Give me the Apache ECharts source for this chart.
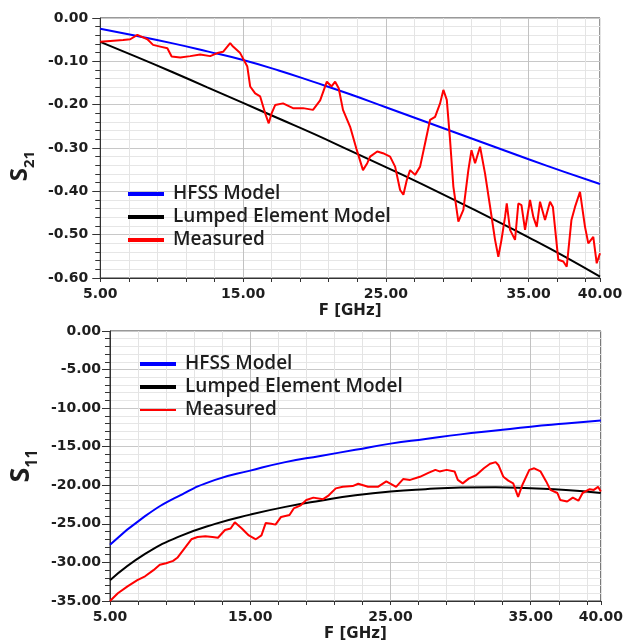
<!DOCTYPE html>
<html><head><meta charset="utf-8">
<script src="https://cdn.jsdelivr.net/npm/echarts@6/dist/echarts.min.js"></script>
<style>html,body{margin:0;padding:0;background:#fff}#c{width:626px;height:643px}</style>
</head><body><div id="c"></div>
<script>
// ---- data ----
const seriesNames = ['HFSS Model', 'Lumped Element Model', 'Measured'];
const xTickLabels = ['5.00', '15.00', '25.00', '35.00', '40.00'];
const freqModel = [5, 7.5, 10, 12.5, 15, 17.5, 20, 22.5, 25, 27.5, 30, 32.5, 35, 37.5, 40];

const s21Hfss   = [-0.025, -0.041, -0.058, -0.077, -0.097, -0.121, -0.148, -0.176, -0.206, -0.236, -0.266, -0.296, -0.326, -0.355, -0.383];
const s21Lumped = [-0.055, -0.089, -0.124, -0.160, -0.196, -0.232, -0.268, -0.306, -0.344, -0.383, -0.423, -0.464, -0.506, -0.550, -0.597];
const s21MeasF = [5, 5.7, 6.6, 7.1, 7.6, 7.8, 8.3, 8.7, 9.2, 9.7, 10.0, 10.6, 11.3, 12.0, 12.7, 13.2, 13.6, 14.1, 14.3, 14.8,
  15.3, 15.5, 15.85, 16.2, 16.55, 16.8, 17.0, 17.25, 17.8, 18.5, 19.2, 19.9, 20.4, 20.87, 21.2, 21.45, 21.7, 22.0, 22.5, 22.97,
  23.4, 23.7, 23.9, 24.4, 24.8, 25.3, 25.65, 26.0, 26.23, 26.47, 26.7, 27.05, 27.4, 27.75, 28.1, 28.45, 28.8, 29.03, 29.27, 29.5,
  29.73, 30.08, 30.43, 30.78, 31.0, 31.25, 31.6, 31.95, 32.3, 32.65, 32.88, 33.1, 33.35, 33.47, 33.7, 34.05, 34.28, 34.5, 34.75, 35.1,
  35.33, 35.57, 35.8, 36.15, 36.5, 36.7, 37.08, 37.43, 37.67, 38.0, 38.25, 38.6, 38.95, 39.18, 39.53, 39.77, 40.0];
const s21MeasV = [-0.055, -0.053, -0.051, -0.049, -0.039, -0.042, -0.049, -0.062, -0.066, -0.070, -0.089, -0.091, -0.088, -0.084, -0.088, -0.081, -0.078, -0.058, -0.066, -0.081,
  -0.112, -0.158, -0.174, -0.181, -0.220, -0.243, -0.220, -0.201, -0.197, -0.208, -0.208, -0.212, -0.190, -0.147, -0.158, -0.147, -0.162, -0.212, -0.251, -0.305,
  -0.351, -0.335, -0.320, -0.308, -0.312, -0.320, -0.343, -0.397, -0.408, -0.374, -0.351, -0.362, -0.343, -0.289, -0.235, -0.228, -0.197, -0.166, -0.189, -0.282,
  -0.389, -0.470, -0.443, -0.351, -0.305, -0.335, -0.297, -0.359, -0.435, -0.512, -0.551, -0.512, -0.459, -0.428, -0.489, -0.512, -0.428, -0.432, -0.489, -0.420,
  -0.459, -0.482, -0.424, -0.466, -0.424, -0.436, -0.558, -0.562, -0.574, -0.466, -0.436, -0.401, -0.482, -0.520, -0.505, -0.566, -0.543];

const s11Hfss   = [-27.7, -24.0, -21.3, -19.3, -18.1, -17.0, -16.2, -15.4, -14.6, -14.0, -13.4, -12.9, -12.4, -12.0, -11.6];
const s11Lumped = [-32.3, -28.9, -26.6, -25.0, -23.8, -22.8, -22.0, -21.3, -20.8, -20.5, -20.3, -20.25, -20.4, -20.6, -21.0];
const s11MeasF = [5, 5.56, 6.25, 6.95, 7.5, 8.1, 8.55, 9.0, 9.5, 9.8, 10.3, 10.8, 11.24, 11.8, 12.3, 12.7, 13.2, 13.6, 13.9, 14.4,
  14.9, 15.4, 15.8, 16.1, 16.5, 16.8, 17.2, 17.8, 18.1, 18.6, 19.0, 19.5, 20.2, 20.6, 21.1, 21.6, 22.3, 22.7, 23.4, 24.1,
  24.7, 25.4, 25.9, 26.4, 27.1, 27.7, 28.2, 28.5, 29.0, 29.57, 29.8, 30.15, 30.6, 31.1, 31.66, 32.1, 32.5, 32.7, 33.05, 33.4,
  33.75, 34.1, 34.4, 34.9, 35.25, 35.7, 36.1, 36.4, 36.9, 37.1, 37.6, 38.0, 38.4, 38.7, 39.2, 39.5, 39.8, 40.0];
const s11MeasV = [-35.0, -34.0, -33.1, -32.3, -31.8, -31.0, -30.3, -30.1, -29.8, -29.4, -28.2, -27.0, -26.7, -26.6, -26.7, -26.8, -25.8, -25.6, -24.8, -25.6,
  -26.5, -27.0, -26.5, -24.9, -25.0, -25.1, -24.1, -23.85, -23.0, -22.6, -21.9, -21.6, -21.8, -21.3, -20.4, -20.2, -20.1, -19.8, -20.2, -20.2,
  -19.5, -20.2, -19.2, -19.3, -18.9, -18.4, -18.0, -18.2, -18.0, -18.2, -19.3, -19.75, -19.1, -18.7, -17.8, -17.2, -17.0, -17.4, -18.9, -19.4,
  -19.75, -21.5, -19.96, -18.0, -17.8, -18.2, -19.5, -20.6, -21.0, -21.9, -22.1, -21.6, -22.0, -21.0, -20.5, -20.6, -20.2, -20.8];

// ---- chart ----
const pairs = (xs, ys) => xs.map((x, i) => [x, ys[i]]);
const TXT = '#1e1e1e';
const AX = '#333';
const FONT = '"DejaVu Sans", Verdana, sans-serif';
const LBL = { fontFamily: FONT, fontWeight: 'bold', fontSize: 14, color: TXT };

function xAxisFor(gi) {
  return {
    type: 'value', gridIndex: gi, min: 5, max: 40, interval: 2,
    name: 'F [GHz]', nameLocation: 'middle', nameGap: 26,
    nameTextStyle: { fontFamily: FONT, fontWeight: 'bold', fontSize: 15, color: TXT },
    axisLine: { show: true, onZero: false, lineStyle: { color: AX, width: 1 } },
    axisTick: { show: true, length: 4, lineStyle: { color: AX } },
    axisLabel: Object.assign({ interval: 0, margin: 9,
      formatter: v => { const s = v.toFixed(2); return xTickLabels.indexOf(s) >= 0 ? s : ''; } }, LBL),
    splitLine: { show: true, lineStyle: { color: ['#c2c2c2', '#e4e4e4', '#e4e4e4', '#e4e4e4', '#e4e4e4'], width: 1 } }
  };
}
function yAxisFor(gi, min, interval, sub, sSize, subSize, pad, gap, margin) {
  return {
    type: 'value', gridIndex: gi, min: min, max: 0, interval: interval,
    name: '{s|S}{sub|' + sub + '}', nameLocation: 'middle', nameRotate: 90, nameGap: gap,
    nameTextStyle: {
      padding: pad,
      rich: {
        s: { fontFamily: 'Open Sans', fontWeight: 700, fontSize: sSize, color: TXT },
        sub: { fontFamily: 'Open Sans', fontWeight: 700, fontSize: subSize, color: TXT, verticalAlign: 'bottom', padding: [0, 0, -5, 0] }
      }
    },
    axisLine: { show: true, onZero: false, lineStyle: { color: AX, width: 1 } },
    axisTick: { show: true, length: 8, lineStyle: { color: AX } },
    minorTick: { show: true, splitNumber: 5, length: 5, lineStyle: { color: AX } },
    axisLabel: Object.assign({ margin: margin, formatter: v => v.toFixed(2) }, LBL),
    splitLine: { show: true, lineStyle: { color: '#c8c8c8', width: 1 } },
    minorSplitLine: { show: true, lineStyle: { color: '#e6e6e6', width: 1 } }
  };
}
const iconThick = 'path://M0,0L36,0L36,4L0,4Z';
const iconThin = 'path://M0,0L36,0L36,2L0,2Z';
function legendFor(left, top, measIcon) {
  return {
    left: left, top: top, orient: 'vertical', padding: 0, itemWidth: 36, itemHeight: 14, itemGap: 3,
    symbolKeepAspect: true,
    textStyle: { fontFamily: 'Open Sans', fontWeight: 600, fontSize: 19, color: TXT, lineHeight: 20, padding: [0, 0, 0, 4] },
    data: [
      { name: seriesNames[0], icon: iconThick },
      { name: seriesNames[1], icon: iconThick },
      { name: seriesNames[2], icon: measIcon }
    ],
    selectedMode: false
  };
}
function line(name, gi, data, color, smooth, width) {
  return { type: 'line', name: name, xAxisIndex: gi, yAxisIndex: gi, data: data, symbol: 'none',
    smooth: smooth, lineStyle: { color: color, width: width }, itemStyle: { color: color } };
}

const chart = echarts.init(document.getElementById('c'), null, { renderer: 'canvas' });
chart.setOption({
  animation: false,
  backgroundColor: '#fff',
  grid: [
    { left: 100, top: 18, width: 500, height: 260, show: true, borderColor: AX, borderWidth: 1, backgroundColor: 'transparent' },
    { left: 102, top: 331, width: 503, height: 270, show: true, borderColor: AX, borderWidth: 1, backgroundColor: 'transparent' }
  ],
  xAxis: [xAxisFor(0), xAxisFor(1)],
  yAxis: [yAxisFor(0, -0.6, 0.1, '21', 24, 15, [0, 36, 0, 0], 57, 12), yAxisFor(1, -35, 5, '11', 27, 16, [0, 0, 0, 0], 59, 9)],
  legend: [legendFor(128, 184, iconThick), legendFor(140, 354, iconThin)],
  series: [
    line(seriesNames[0], 0, pairs(freqModel, s21Hfss), '#0000ff', true, 2),
    line(seriesNames[1], 0, pairs(freqModel, s21Lumped), '#000000', true, 2),
    line(seriesNames[2], 0, pairs(s21MeasF, s21MeasV), '#ff0000', false, 2),
    line(seriesNames[0], 1, pairs(freqModel, s11Hfss), '#0000ff', true, 2),
    line(seriesNames[1], 1, pairs(freqModel, s11Lumped), '#000000', true, 2),
    line(seriesNames[2], 1, pairs(s11MeasF, s11MeasV), '#ff0000', false, 2)
  ]
});
</script></body></html>
